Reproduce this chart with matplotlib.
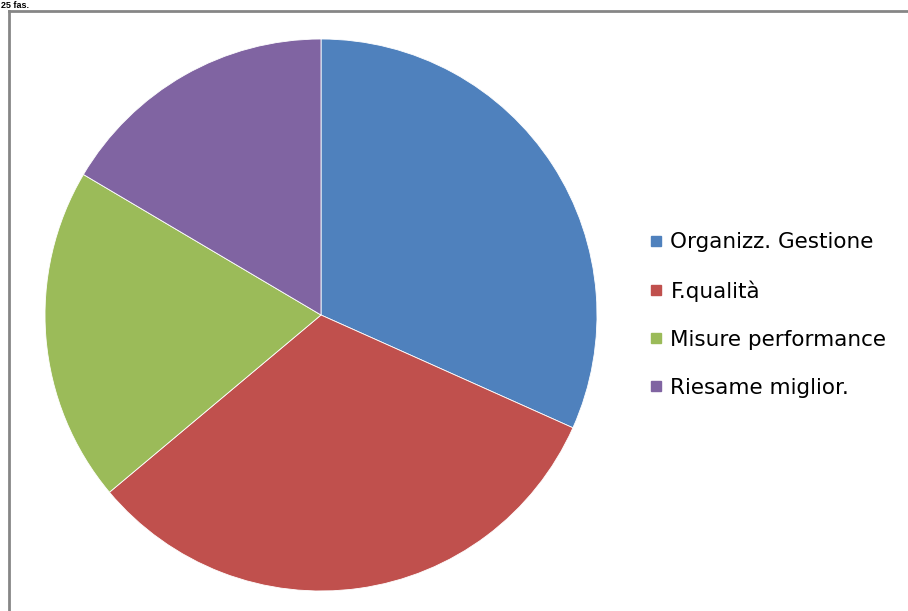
import matplotlib

matplotlib.use('Agg')
import matplotlib.pyplot as plt
from matplotlib.lines import Line2D

categories = ['Organizz. Gestione', 'F.qualità', 'Misure performance', 'Riesame miglior.']
values = [31.7, 32.2, 19.6, 16.5]
colors = ['#4F81BD', '#C0504D', '#9BBB59', '#8064A2']

W, H = 908, 611
fig = plt.figure(figsize=(W / 100, H / 100), dpi=100)
fig.patch.set_facecolor('white')

# chart frame (only top and left edges are visible in the crop)
fig.add_artist(Line2D([9 / W, 1.0], [1 - 11 / H, 1 - 11 / H], color='#868686', linewidth=2))
fig.add_artist(Line2D([9 / W, 9 / W], [0.0, 1 - 11 / H], color='#868686', linewidth=2))

# small title text above the frame
fig.text(1 / W, 1 - 1 / H, '25 fas.', fontsize=6.5, fontweight='bold',
         family='Liberation Sans', va='top', ha='left', color='black')

ax = fig.add_axes([45 / W, 1 - 591 / H, 552 / W, 552 / H])
ax.pie(values, colors=colors, startangle=90, counterclock=False,
       wedgeprops=dict(edgecolor='white', linewidth=0.6))
ax.set_xlim(-1, 1)
ax.set_ylim(-1, 1)
ax.set_aspect('equal')

handles = [Line2D([0], [0], marker='s', linestyle='none', markersize=7.5,
                  markerfacecolor=c, markeredgecolor=c) for c in colors]
fig.legend(handles, categories, loc='center left',
           bbox_to_anchor=(650 / W, 1 - 315 / H), frameon=False,
           prop=dict(family='DejaVu Sans', size=15.5), labelspacing=1.3,
           handlelength=0.6, handletextpad=0.35, borderpad=0, borderaxespad=0)

fig.savefig('out.png', dpi=100)
plt.close(fig)
